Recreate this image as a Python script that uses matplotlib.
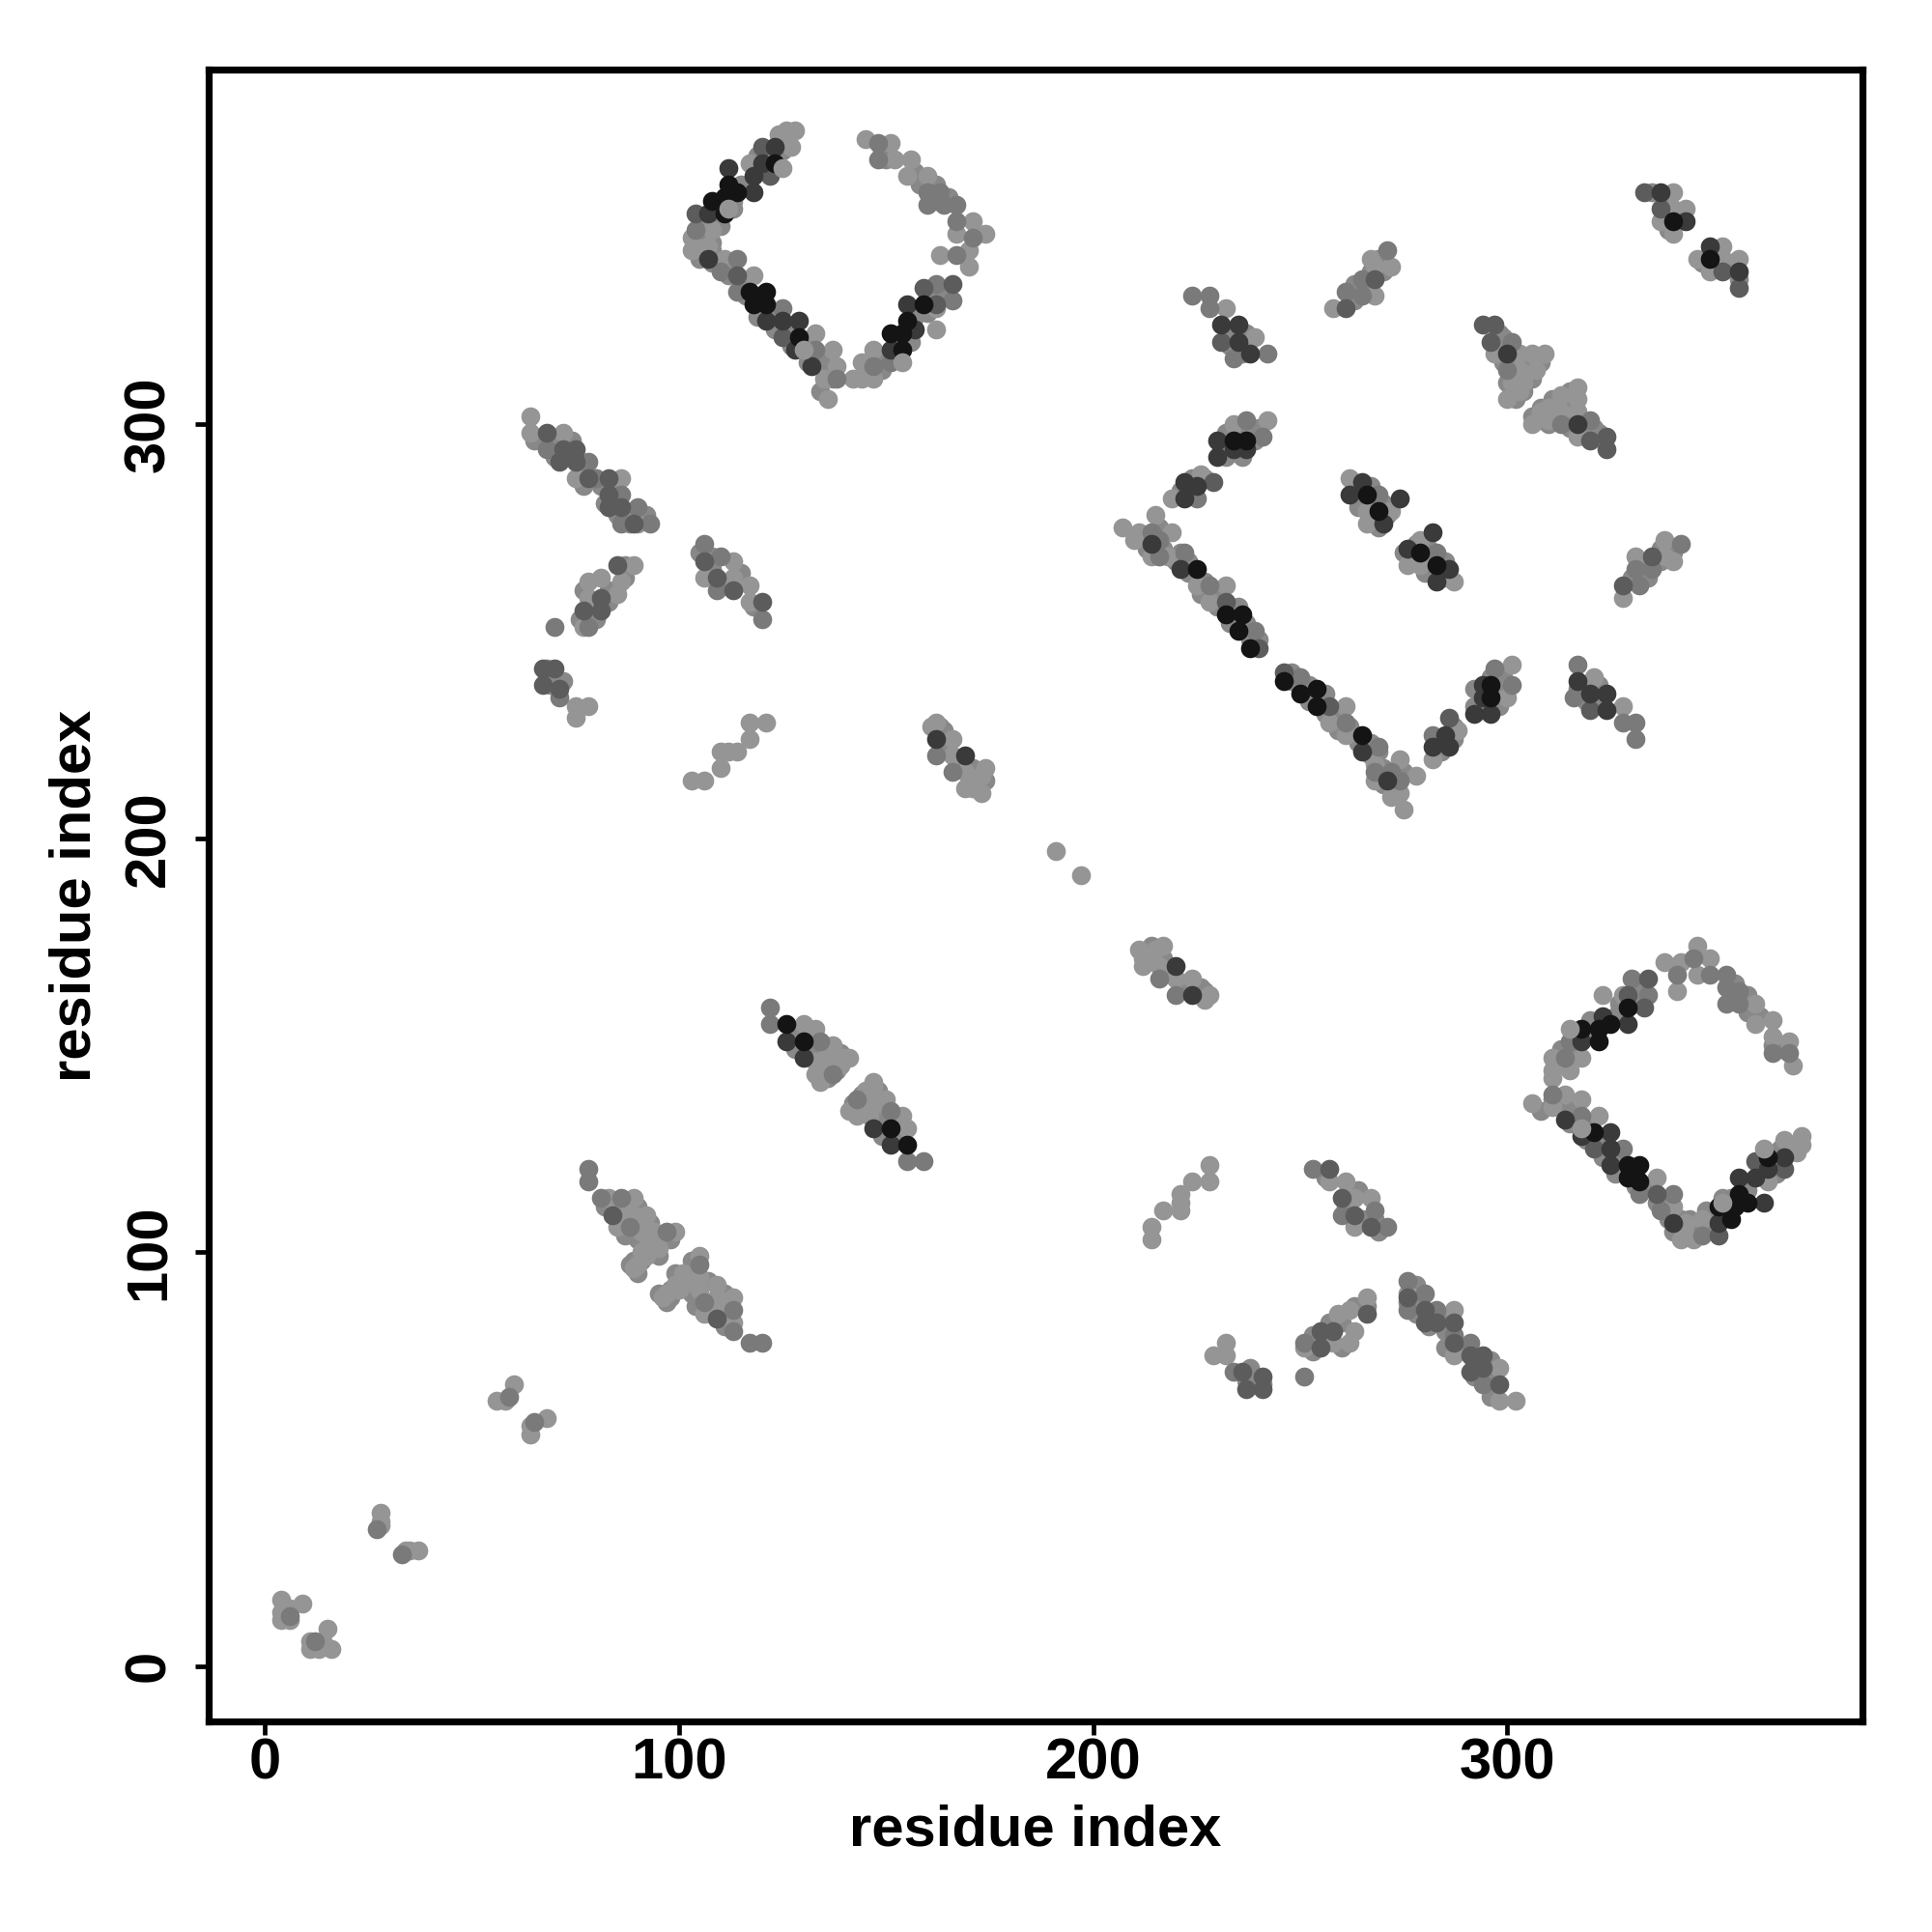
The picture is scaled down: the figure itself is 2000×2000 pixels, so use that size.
import numpy as np
import matplotlib
matplotlib.use('Agg')
import matplotlib.pyplot as plt

# residue contact pairs (i, j), i < j. the map is symmetric
# so each pair gets drawn at (i, j) and (j, i). grouped by grey level
fill_pairs = [
    (105,345),(104,342),(105,340),(108,339),(106,349),(109,351),(110,348),(108,344),(108,342),
    (106,341),(112,338),(112,336),(116,334),(116,331),(119,331),(119,326),(123,326),(123,323),
    (127,322),(127,319),(131,319),(131,315),(134,316),(135,314),(137,311),(134,308),
    (113,354),(109,352),(113,352),(115,358),(119,365),(122,365),(125,369),(121,364),(125,366),
    (149,366),(150,364),(157,361),(158,358),(162,354),(162,358),(165,355),
    (148,316),(149,313),(152,316),(153,320),(156,320),(157,326),(160,331),(163,331),(164,332),(160,327),
    (212,272),(213,270),(217,270),(220,267),(221,269),(223,267),(223,264),(226,259),(227,262),
    (230,259),(230,256),(233,252),(235,256),(237,252),(238,248),(240,248),(216,275),
    (221,284),(224,284),(224,287),(227,287),(231,294),(232,298),(235,298),(238,298),(239,296),
    (236,299),(240,299),(232,292),(236,292),
    (263,285),(264,282),(267,285),(268,281),(267,278),(270,281),(269,275),(264,280),(271,278),
    (298,319),(299,315),(302,315),(305,315),(299,321),(302,312),(305,312),(301,308),(306,311),
    (308,315),(302,306),(304,308),(298,322),(300,310),
    (82,111),(84,111),(87,112),(87,108),(90,111),(93,107),(90,103),(93,103),(93,100),(96,103),
    (98,103),(91,98),(88,97),(90,95),(89,98),(95,99),(85,112),(87,104),
    (135,150),(136,146),(138,148),(134,144),(136,144),(138,144),(135,142),(132,149),(136,142),
    (128,153),(132,152),(139,148),(131,148),(128,149),
    (65,296),(70,296),(74,296),(73,292),(77,289),(77,285),(81,285),(84,285),(85,282),(85,278),
    (88,278),(88,276),(92,278),(70,292),(82,281),
    (108,265),(112,262),(115,264),(111,261),(118,256),(108,268),(105,269),
    (77,260),(79,256),(83,257),(80,253),(83,260),(87,263),(87,266),(76,253),
    (68,239),(69,239),(69,237),(72,238),(68,241),
    (164,226),(164,222),(168,218),(171,215),(171,217),(174,214),(163,227),
    (233,322),(233,319),(237,319),(237,322),(236,317),
    (263,330),(267,337),(270,337),(263,334),(266,333),(269,340),
    (339,354),(338,350),(341,351),(342,350),(339,347),(335,356),
]
light_pairs = [
    (4,16),(9,15),(4,13),(6,14),(4,11),(5,12),(6,11),(28,37),(28,35),(28,34),
    (60,68),(56,64),(58,64),(191,197),
    (83,113),(89,113),(85,109),(85,106),(89,109),(92,109),(91,105),(94,105),(99,105),
    (92,101),(95,101),(91,100),(89,96),(90,97),(92,99),(87,110),(86,107),
    (130,155),(133,154),(137,150),(141,147),(133,146),(137,146),(133,143),(134,141),
    (140,147),(136,148),(135,145),(139,145),
    (64,302),(64,298),(72,298),(75,287),(86,287),(90,276),
    (106,263),(113,267),(113,263),(117,261),(117,257),
    (77,251),(78,258),(85,259),(78,262),(81,263),(86,262),(89,266),
    (75,232),(78,232),(75,229),
    (121,228),(117,228),(117,224),(114,221),(110,221),(112,221),(110,217),(106,214),(103,214),
    (162,228),(161,227),(166,224),(166,220),(169,216),(169,212),(174,217),(173,211),(171,212),(173,215),
    (128,371),(126,371),(124,370),(127,367),(117,363),(108,347),(103,345),(103,342),
    (107,343),(111,340),(118,336),(133,322),(137,318),(138,314),(135,311),(136,306),
    (142,311),(144,315),(147,311),(144,311),(147,318),(162,323),(162,328),(145,369),
    (151,368),(152,364),(156,364),(155,360),(160,360),(171,349),(167,346),(174,346),
    (163,341),(170,342),(170,338),
    (207,275),(215,278),(211,274),(210,272),(219,274),(214,268),(218,268),(232,261),
    (228,257),(219,282),(226,288),(234,300),(242,301),(225,261),
    (262,287),(266,279),(272,279),(266,276),
    (232,328),(239,321),(258,328),(268,331),(267,340),(268,338),(272,338),
    (297,317),(303,317),(306,317),(309,317),(303,313),(307,313),(301,310),(304,310),(300,306),(303,308),
    (340,356),(340,352),(343,352),(337,349),(340,346),
]
mid_pairs = [
    (6,12),(27,33),(59,65),
    (78,120),(78,117),(81,113),(86,113),(97,105),(88,106),
    (122,159),(122,155),(134,151),(137,143),
    (68,294),(80,287),(86,283),(90,280),(86,276),(93,276),(78,291),
    (106,271),(110,268),(109,260),(120,253),
    (70,251),(78,251),(71,234),(162,220),(166,216),
    (114,340),(110,337),(114,332),(133,318),(138,311),(147,314),(151,315),(162,334),
    (166,330),(148,368),(148,364),(160,356),(163,356),(160,353),(164,353),(167,353),
    (167,349),(171,345),(167,341),(125,328),(104,347),
    (214,274),(216,272),(216,268),(222,269),(228,261),(225,282),(239,250),(237,301),(241,297),
    (269,283),
    (224,331),(228,331),(228,328),(234,316),(242,317),
    (261,332),(265,331),(265,335),(271,342),(301,320),(300,313),
]
middark_pairs = [
    (84,109),(68,298),(83,280),(72,294),(75,294),(71,291),(75,291),(78,287),(83,287),
    (83,283),(86,280),(89,276),
    (106,267),(109,263),(113,260),(120,257),
    (77,255),(81,258),(85,266),(81,255),(67,241),(70,241),(67,237),(71,236),
    (120,367),(122,360),(104,351),(114,336),(125,321),(159,333),(166,334),(162,329),
    (232,257),(240,246),(229,286),(231,320),(261,328),(268,335),
    (294,324),(297,324),(296,320),(333,356),(337,352),
]
dark_pairs = [
    (126,151),(130,147),(162,224),(169,220),
    (123,367),(120,363),(118,360),(112,362),(118,356),(107,351),(107,340),(121,325),
    (125,325),(129,325),(128,318),(132,314),(151,318),(155,329),(157,323),
    (214,271),(221,265),(222,282),(222,286),(225,285),(230,292),(230,296),(234,294),(237,294),
    (265,286),(262,283),(274,282),(270,276),
    (231,324),(235,324),(235,320),(238,317),(300,317),(337,356),(343,349),
]
black_pairs = [
    (126,155),(130,151),
    (123,363),(112,358),(114,356),(111,355),(108,354),(111,351),(117,332),(121,332),
    (118,329),(121,329),(129,321),(154,318),(151,322),(154,322),(155,325),(159,329),
    (225,265),(232,254),(236,254),(235,250),(238,246),(234,296),(237,296),
    (266,283),(269,279),(340,349),
]
# a few lighter ones that sit on top of the black discs
top_pairs = [(112,352),(154,315),(125,362),(130,318)]

pair_groups = [fill_pairs, light_pairs, mid_pairs, middark_pairs, dark_pairs, black_pairs, top_pairs]
greys = ['#888888', '#959595', '#7a7a7a', '#5c5c5c', '#3a3a3a', '#141414', '#959595']

ticks = [0, 100, 200, 300]

plt.rcParams['font.family'] = ['Liberation Sans', 'DejaVu Sans']
plt.rcParams['font.weight'] = 'bold'

fig = plt.figure(figsize=(10, 10), dpi=200)
ax = fig.add_axes([0.1078, 0.109, 0.856, 0.855])

for pairs, grey in zip(pair_groups, greys):
    arr = np.array(pairs)
    ax.scatter(np.r_[arr[:, 0], arr[:, 1]], np.r_[arr[:, 1], arr[:, 0]],
               s=50, c=grey, linewidths=0, zorder=3)

ax.set_xlim(-13.7, 385.7)
ax.set_ylim(-13.4, 385.7)
ax.set_xticks(ticks)
ax.set_yticks(ticks)
ax.tick_params(length=5, width=1.7, labelsize=21.5)
ax.tick_params(axis='x', pad=1)
ax.tick_params(axis='y', pad=7)
for lab in ax.get_yticklabels():
    lab.set_rotation(90)
    lab.set_va('center')
ax.set_xlabel('residue index', fontsize=21.5, fontweight='bold', labelpad=5)
ax.set_ylabel('residue index', fontsize=21.5, fontweight='bold', labelpad=8)
for spine in ax.spines.values():
    spine.set_linewidth(2.6)

fig.savefig('out.png', dpi=200)
